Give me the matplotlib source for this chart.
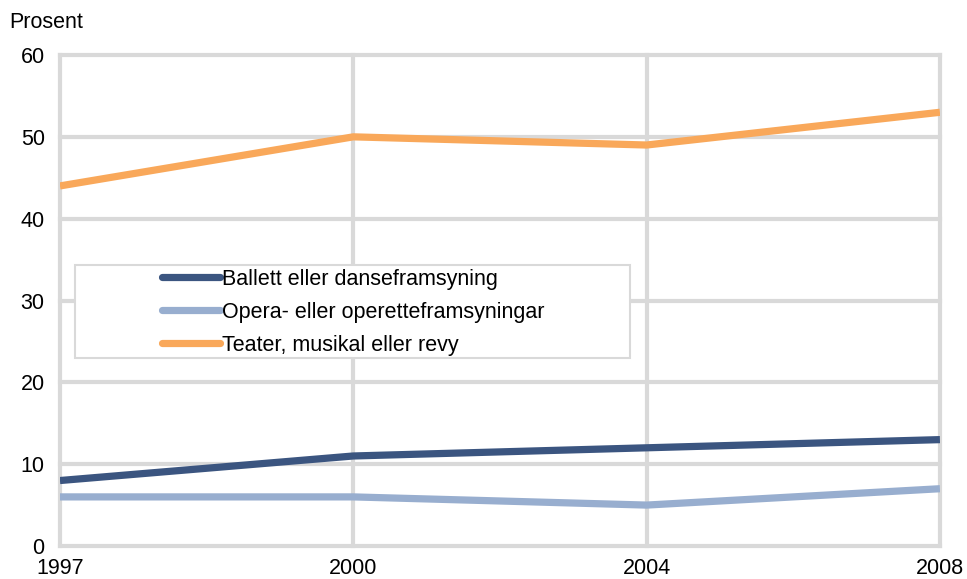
import matplotlib
matplotlib.use("Agg")
import matplotlib.pyplot as plt
from matplotlib.patches import Rectangle

plt.rcParams['font.family'] = ['Liberation Sans', 'DejaVu Sans']

years = ['1997', '2000', '2004', '2008']
ballett = [8, 11, 12, 13]
opera = [6, 6, 5, 7]
teater = [44, 50, 49, 53]
labels = ['Ballett eller danseframsyning',
          'Opera- eller operetteframsyningar',
          'Teater, musikal eller revy']
colors = ['#3B5580', '#98AECF', '#F9A85A']
grid_col = '#D9D9D9'

fig = plt.figure(figsize=(9.67, 5.79), dpi=100)
ax = fig.add_axes([0.062, 0.057, 0.910, 0.848])

x = list(range(len(years)))
for vals, lab, c in zip([ballett, opera, teater], labels, colors):
    ax.plot(x, vals, color=c, linewidth=5.2, label=lab, zorder=3,
            solid_capstyle='butt')

ax.set_xlim(0, 3)
ax.set_ylim(0, 60)
ax.set_xticks(x)
ax.set_xticklabels(years)
ax.set_yticks(range(0, 61, 10))
ax.tick_params(length=0, labelsize=15.5)
ax.tick_params(axis='y', pad=11)
ax.tick_params(axis='x', pad=8.5)
for s in ax.spines.values():
    s.set_visible(False)
ax.grid(True, color=grid_col, linewidth=3)
ax.set_axisbelow(True)
for gl in ax.get_xgridlines() + ax.get_ygridlines():
    gl.set_clip_on(False)
    gl.set_solid_capstyle('projecting')

# legend frame
ax.add_patch(Rectangle((0.017, 0.383), 0.631, 0.189, transform=ax.transAxes,
                       facecolor='white', edgecolor=grid_col, linewidth=1.5,
                       zorder=2.5))
leg = ax.legend(loc='center left', bbox_to_anchor=(0.116, 0.476), frameon=False,
                fontsize=15.5, handlelength=2.7, handletextpad=0.1,
                labelspacing=0.55, borderpad=0, borderaxespad=0)
leg.set_zorder(4)
for h in leg.get_lines():
    h.set_solid_capstyle('round')

fig.text(0.010, 0.962, 'Prosent', fontsize=15.5, va='center', ha='left')

plt.savefig('out.png', dpi=100)
